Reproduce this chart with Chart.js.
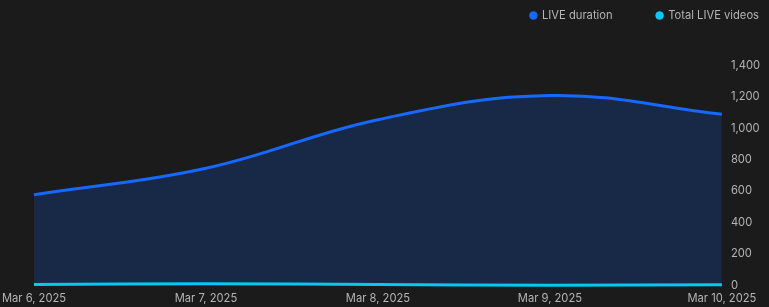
<!DOCTYPE html>
<html>
<head>
<meta charset="utf-8">
<script src="https://cdn.jsdelivr.net/npm/chart.js@4/dist/chart.umd.min.js"></script>
<style>
  html, body { margin: 0; padding: 0; background: #1b1b1b; }
  #wrap { width: 769px; height: 307px; }
</style>
</head>
<body>
<div id="wrap"><canvas id="chart"></canvas></div>
<script>
// ─── data ────────────────────────────────────────────
const dates        = ["Mar 6, 2025", "Mar 7, 2025", "Mar 8, 2025", "Mar 9, 2025", "Mar 10, 2025"];
const liveDuration = [577, 745, 1054, 1207, 1088];
const liveVideos   = [6, 12, 6, 2, 5];
const yTicks       = [0, 200, 400, 600, 800, 1000, 1200, 1400];

const textColor = "#b4b4b4";
const font      = { family: "Inter", size: 11.2 };

// Extra space between the legend and the plot, and nudge legend to the right edge
const legendGap = {
  id: "legendGap",
  beforeInit(chart) {
    const fit = chart.legend.fit;
    chart.legend.fit = function () {
      fit.bind(chart.legend)();
      this.height += 34;
    };
  },
  afterLayout(chart) {
    chart.legend.left  += 34;
    chart.legend.right += 34;
  }
};

const ctx = document.getElementById("chart").getContext("2d");

new Chart(ctx, {
  type: "line",
  data: {
    labels: dates,
    datasets: [
      {
        label:           "LIVE duration",
        data:            liveDuration,
        borderColor:     "#1668ff",
        backgroundColor: "#1668ff",
        fill:            { target: "origin", above: "#172947" },
        borderWidth:     3,
        tension:         0.4,
        pointRadius:     0,
        order:           1
      },
      {
        label:           "Total LIVE videos",
        data:            liveVideos,
        borderColor:     "#06c8f2",
        backgroundColor: "#06c8f2",
        fill:            false,
        borderWidth:     3,
        tension:         0.4,
        pointRadius:     0,
        clip:            false,
        order:           0
      }
    ]
  },
  plugins: [legendGap],
  options: {
    responsive: true,
    maintainAspectRatio: false,
    animation: false,
    layout: { padding: { top: -34, right: 0, bottom: -4, left: 0 } },
    plugins: {
      legend: {
        align: "end",
        labels: {
          color: textColor,
          font,
          usePointStyle: true,
          pointStyle: "circle",
          boxWidth: 6,
          boxHeight: 6,
          padding: 44,
          sort: (a, b) => a.datasetIndex - b.datasetIndex,
          generateLabels: chart =>
            Chart.defaults.plugins.legend.labels.generateLabels(chart)
              .map(item => ({ ...item, lineWidth: 0 }))
        }
      },
      tooltip: { enabled: false }
    },
    scales: {
      x: {
        afterFit: axis => { axis.paddingLeft = 34; },
        grid:   { display: false, drawTicks: false },
        border: { display: false },
        ticks:  { color: textColor, font, maxRotation: 0, padding: 6 }
      },
      y: {
        position: "right",
        min: 0,
        max: 1400,
        afterBuildTicks: axis => { axis.ticks = yTicks.map(v => ({ value: v })); },
        grid:   { display: false, drawTicks: false },
        border: { display: false },
        ticks:  {
          color: textColor,
          font,
          padding: 9,
          callback: v => v.toLocaleString("en-US")
        }
      }
    }
  }
});
</script>
</body>
</html>
